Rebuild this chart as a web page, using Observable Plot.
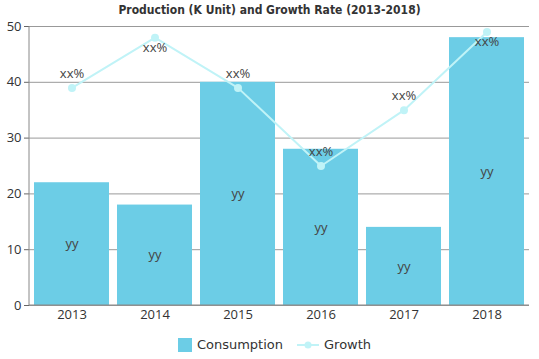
<!DOCTYPE html>
<html><head><meta charset="utf-8">
<script src="https://cdn.jsdelivr.net/npm/d3@7"></script>
<script src="https://cdn.jsdelivr.net/npm/@observablehq/plot@0.6"></script>
<style>
body{margin:0;background:#fff;font-family:"Open Sans",sans-serif;}
#title{height:18px;line-height:20px;text-align:center;font-family:"DejaVu Sans Condensed","DejaVu Sans",sans-serif;font-weight:bold;font-size:12px;color:#333;}
#legend{height:29px;display:flex;justify-content:center;align-items:center;gap:14px;font-size:13px;color:#333;font-family:"DejaVu Sans",sans-serif;padding-left:10px}
.item{display:flex;align-items:center;gap:5px}
</style></head><body>
<div id="title">Production (K Unit) and Growth Rate (2013-2018)</div>
<div id="chart"></div>
<div id="legend">
 <div class="item"><svg width="14" height="14"><rect width="14" height="14" fill="#6ccde6"/></svg>Consumption</div>
 <div class="item"><svg width="22" height="10"><line x1="0" y1="5" x2="22" y2="5" stroke="#c0f3f7" stroke-width="2"/><circle cx="11" cy="5" r="3.5" fill="#c0f3f7"/></svg>Growth</div>
</div>
<script>
const years = ["2013","2014","2015","2016","2017","2018"];
const consumption = [22, 18, 40, 28, 14, 48];
const growth = [39, 48, 39, 25, 35, 49];
const barLabels = ["yy","yy","yy","yy","yy","yy"];
const growthLabels = ["xx%","xx%","xx%","xx%","xx%","xx%"];
const yTicks = [0,10,20,30,40,50];

const data = years.map((y,i)=>({year:y, c:consumption[i], g:growth[i], bl:barLabels[i], gl:growthLabels[i]}));

const chart = Plot.plot({
  width:539, height:312,
  marginLeft:29, marginRight:10, marginTop:8, marginBottom:25,
  style:{fontFamily:"'Open Sans',sans-serif", fontSize:"13px", color:"#333", background:"#fff"},
  x:{domain:years, paddingInner:0.1, paddingOuter:0.04, label:null},
  y:{domain:[0,50], ticks:yTicks, label:null},
  marks:[
    Plot.ruleY(yTicks, {stroke:"#999", strokeWidth:1}),
    Plot.barY(data, {x:"year", y:"c", fill:"#6ccde6"}),
    Plot.line(data, {x:"year", y:"g", stroke:"#c0f3f7", strokeWidth:2}),
    Plot.dot(data, {x:"year", y:"g", r:4, fill:"#c0f3f7"}),
    Plot.text(data, {x:"year", y:d=>d.c/2, text:"bl", fill:"#444", fontSize:13}),
    Plot.text(data.filter(d=>d.g<=45), {x:"year", y:"g", text:"gl", dy:-14, fill:"#444", fontSize:13}),
    Plot.text(data.filter(d=>d.g>45), {x:"year", y:"g", text:"gl", dy:10, fill:"#444", fontSize:13}),
    Plot.axisY({ticks:yTicks, tickSize:5, tickPadding:3, stroke:"#666"}),
    Plot.axisX({tickSize:0, tickPadding:4})
  ]
});
const svg = d3.select(chart);
svg.append("line").attr("x1",29).attr("x2",29).attr("y1",8).attr("y2",287).attr("stroke","#888");
svg.append("line").attr("x1",29).attr("x2",529).attr("y1",287).attr("y2",287).attr("stroke","#888");
document.getElementById("chart").appendChild(chart);
</script>
</body></html>
